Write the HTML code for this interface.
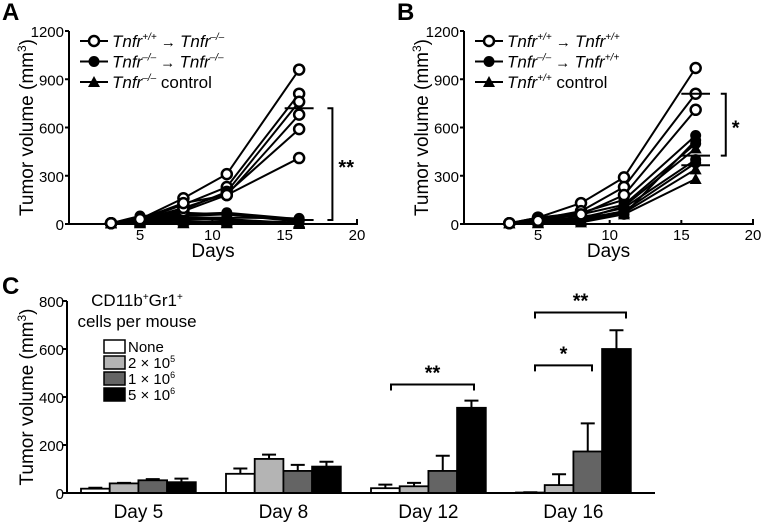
<!DOCTYPE html>
<html><head><meta charset="utf-8"><style>
html,body{margin:0;padding:0;background:#fff;}
svg{display:block;font-family:"Liberation Sans",Arial,sans-serif;}
</style></head><body>
<svg id="fig" width="773" height="529" viewBox="0 0 773 529" xmlns="http://www.w3.org/2000/svg"></svg>
<script>
// ---- Panel A data ----
const days = [3,5,8,11,16];
const aOpen = [[5,30,160,310,960],[5,25,120,230,810],[5,20,90,200,760],[5,20,80,180,680],[5,25,100,190,590],[5,30,130,180,410]];
const aFilled = [[5,50,60,70,30],[5,40,50,60,20],[5,30,40,40,35],[5,45,70,60,15]];
const aTri = [[5,10,5,5,5],[5,15,20,10,0],[5,5,10,20,10],[5,20,30,30,5]];
const aMeans = [720,25];
// ---- Panel B data ----
const bOpen = [[5,40,130,290,970],[5,30,80,230,810],[5,20,60,180,710]];
const bFilled = [[5,40,70,150,550],[5,30,60,120,500],[5,20,40,100,400],[5,10,30,80,380],[5,35,50,60,520]];
const bTri = [[5,20,30,110,470],[5,10,20,70,340],[5,5,10,60,280]];
const bMeans = [810,425,365];
const lineTicksX = [5,10,15,20];
const lineTicksY = [0,300,600,900,1200];
// ---- Panel C data ----
const cGroups = ["Day 5","Day 8","Day 12","Day 16"];
const cSeries = ["None","2 × 10","1 × 10","5 × 10"];
const cSup = ["","5","6","6"];
const cValues = [[18,80,20,2],[40,142,28,33],[53,92,92,173],[45,110,355,600]];
const cErrors = [[22,102,35,3],[42,160,42,78],[58,117,155,290],[60,130,385,678]];
const cTicks = [0,200,400,600,800];

const NS="http://www.w3.org/2000/svg";
const svg=document.getElementById('fig');
function mk(tag,attrs,parent){const e=document.createElementNS(NS,tag);for(const k in attrs)e.setAttribute(k,attrs[k]);(parent||svg).appendChild(e);return e;}
function txt(x,y,s,size,extra,parent){const t=mk('text',Object.assign({x:x,y:y,'font-size':size,fill:'#000'},extra||{}),parent);t.textContent=s;return t;}

function linePanel(ox,x5,x20,seriesSets,means,bracket,stars,label,legend){
  const y0=224,y1200=31;
  const X=d=>x5+(d-5)*(x20-x5)/15;
  const Y=v=>y0-(v/1200)*(y0-y1200);
  const g=mk('g',{});
  
  
  const pl=txt(ox+2,20,label,24,{'font-weight':'bold'},g);
  
  const ax=mk('path',{d:`M${ox+69} ${Y(1200)}V${y0}H${X(20)}V${y0-5}`,stroke:'#000','stroke-width':2,fill:'none'},g);
  
  lineTicksY.forEach(v=>{
    mk('line',{x1:ox+65,x2:ox+69,y1:Y(v),y2:Y(v),stroke:'#000','stroke-width':2},g);
    const t=txt(ox+64,Y(v)+6,String(v),15,{'text-anchor':'end'},g);
    
  });
  lineTicksX.forEach(d=>{
    if(d<20)mk('line',{x1:X(d),x2:X(d),y1:y0,y2:y0-4,stroke:'#000','stroke-width':2},g);
    const t=txt(X(d),y0+16,String(d),15,{'text-anchor':'middle'},g);
    
  });
  const xt=txt((ox+69+X(20))/2,y0+33,'Days',19,{'text-anchor':'middle'},g);
  
  const yt=txt(0,0,'',19,{'text-anchor':'middle',transform:`translate(${ox+33},${(y0+Y(1200))/2}) rotate(-90)`},g);
  yt.textContent='Tumor volume (mm';const sp=mk('tspan',{dy:-7,'font-size':12},yt);sp.textContent='3';const sp2=mk('tspan',{dy:7},yt);sp2.textContent=')';
  
  seriesSets.forEach(set=>{
    set.data.forEach(arr=>{
      const p=mk('polyline',{points:arr.map((v,i)=>X(days[i])+','+Y(v)).join(' '),fill:'none',stroke:'#000','stroke-width':2},g);
      
      arr.forEach((v,i)=>drawMarker(set.kind,X(days[i]),Y(v),g));
    });
  });
  means.forEach(m=>{const l=mk('line',{x1:X(15),x2:X(17),y1:Y(m),y2:Y(m),stroke:'#000','stroke-width':2},g);
    });
  const bx=X(bracket.d);
  const br=mk('path',{d:`M${bx-5} ${Y(bracket.top)}H${bx}V${Y(bracket.bot)}H${bx-5}`,fill:'none',stroke:'#000','stroke-width':2},g);
  
  const st=txt(bx+6,(Y(bracket.top)+Y(bracket.bot))/2+10,stars,20,{'font-weight':'bold'},g);
  
  legend.forEach((lg,i)=>{
    const ly=41+i*20.5;
    const le=mk('g',{},g);
    mk('line',{x1:ox+80,x2:ox+108,y1:ly,y2:ly,stroke:'#000','stroke-width':2},le);
    drawMarker(lg.kind,ox+94,ly,le);
    const t=mk('text',{x:ox+112,y:ly+6,'font-size':17},le);
    lg.parts.forEach(pt=>{const s=mk('tspan',Object.assign({},pt.a||{}),t);s.textContent=pt.t;});
  });
}
function drawMarker(kind,x,y,g){
  let m;
  if(kind==='open')m=mk('circle',{cx:x,cy:y,r:5,fill:'#fff',stroke:'#000','stroke-width':2.5},g);
  else if(kind==='filled')m=mk('circle',{cx:x,cy:y,r:5.5,fill:'#000'},g);
  else m=mk('path',{d:`M${x} ${y-6}L${x+6} ${y+5}L${x-6} ${y+5}Z`,fill:'#000'},g);
  
}
function legendParts(a,b,c){
  const p=[{t:'Tnfr',a:{'font-style':'italic'}},{t:a,a:{'font-size':10,dy:-7,'font-style':'italic'}}];
  if(c){p.push({t:' control',a:{dy:7}});}
  else{p.push({t:' → ',a:{dy:7,'font-size':15}});p.push({t:'Tnfr',a:{'font-style':'italic'}});p.push({t:b,a:{'font-size':10,dy:-7,'font-style':'italic'}});}
  return p;
}
linePanel(0,140,357,[{kind:'tri',name:'control',data:aTri},{kind:'filled',name:'ko-to-ko',data:aFilled},{kind:'open',name:'wt-to-ko',data:aOpen}],aMeans,{d:18.3,top:720,bot:25},'**','A',
 [{kind:'open',parts:legendParts('+/+','–/–')},{kind:'filled',parts:legendParts('–/–','–/–')},{kind:'tri',parts:legendParts('–/–','',true)}]);
linePanel(395,538,753,[{kind:'tri',name:'control',data:bTri},{kind:'filled',name:'ko-to-wt',data:bFilled},{kind:'open',name:'wt-to-wt',data:bOpen}],bMeans,{d:18.1,top:810,bot:425},'*','B',
 [{kind:'open',parts:legendParts('+/+','+/+')},{kind:'filled',parts:legendParts('–/–','+/+')},{kind:'tri',parts:legendParts('+/+','',true)}]);

// ---- Panel C ----
(function(){
  const g=mk('g',{});
  const y0=493,ytop=301,axX=67,axEnd=655;
  const Y=v=>y0-v/800*(y0-ytop);
  const groupStart=[81,226,371,516];const bw=28.7;
  const fills=['#fff','#b4b4b4','#646464','#000'];
  const pl=txt(2,294,'C',24,{'font-weight':'bold'},g);
  const yt=txt(0,0,'',19,{'text-anchor':'middle',transform:`translate(33,${(y0+ytop)/2}) rotate(-90)`},g);
  yt.textContent='Tumor volume (mm';const s1=mk('tspan',{dy:-7,'font-size':12},yt);s1.textContent='3';const s2=mk('tspan',{dy:7},yt);s2.textContent=')';
  
  cTicks.forEach(v=>{mk('line',{x1:axX-4,x2:axX,y1:Y(v),y2:Y(v),stroke:'#000','stroke-width':2},g);
    const t=txt(axX-3,Y(v)+6,String(v),15,{'text-anchor':'end'},g);});
  cGroups.forEach((gn,gi)=>{
    cSeries.forEach((sn,si)=>{
      const x=groupStart[gi]+si*bw,v=cValues[si][gi],e=cErrors[si][gi];
      const eb=mk('path',{d:`M${x+bw/2} ${Y(v)}V${Y(e)}M${x+bw/2-7} ${Y(e)}H${x+bw/2+7}`,stroke:'#000','stroke-width':2,fill:'none'},g);
      
      const r=mk('rect',{x:x,y:Y(v),width:bw,height:y0-Y(v),fill:fills[si],stroke:'#000','stroke-width':1.8},g);
      
    });
    const t=txt(groupStart[gi]+2*bw,y0+25,gn,19,{'text-anchor':'middle'},g);
  });
  const ax=mk('path',{d:`M${axX} ${ytop}V${y0}H${axEnd}`,stroke:'#000','stroke-width':2,fill:'none'},g);
  
  function brk(x1,x2,v,s){const p=mk('path',{d:`M${x1} ${Y(v)+6}V${Y(v)}H${x2}V${Y(v)+6}`,stroke:'#000','stroke-width':2,fill:'none'},g);
    
    const t=txt((x1+x2)/2,Y(v)-5,s,20,{'text-anchor':'middle','font-weight':'bold'},g);}
  brk(391,474,452,'**');brk(535,592,532,'*');brk(535,626,752,'**');
  const lt=txt(137,306,'CD11b',17,{'text-anchor':'middle'},g);
  const a=mk('tspan',{dy:-6,'font-size':10},lt);a.textContent='+';const b=mk('tspan',{dy:6},lt);b.textContent='Gr1';const c=mk('tspan',{dy:-6,'font-size':10},lt);c.textContent='+';
  
  const lt2=txt(137,327,'cells per mouse',17,{'text-anchor':'middle'},g);
  cSeries.forEach((sn,si)=>{
    const y=340+si*16;const e=mk('g',{},g);
    mk('rect',{x:104,y:y,width:21,height:13,fill:fills[si],stroke:'#000','stroke-width':1.5},e);
    const t=mk('text',{x:128,y:y+12,'font-size':15},e);t.textContent=sn;
    if(cSup[si]){const s=mk('tspan',{dy:-6,'font-size':9},t);s.textContent=cSup[si];}
  });
})();
</script>
</body></html>
